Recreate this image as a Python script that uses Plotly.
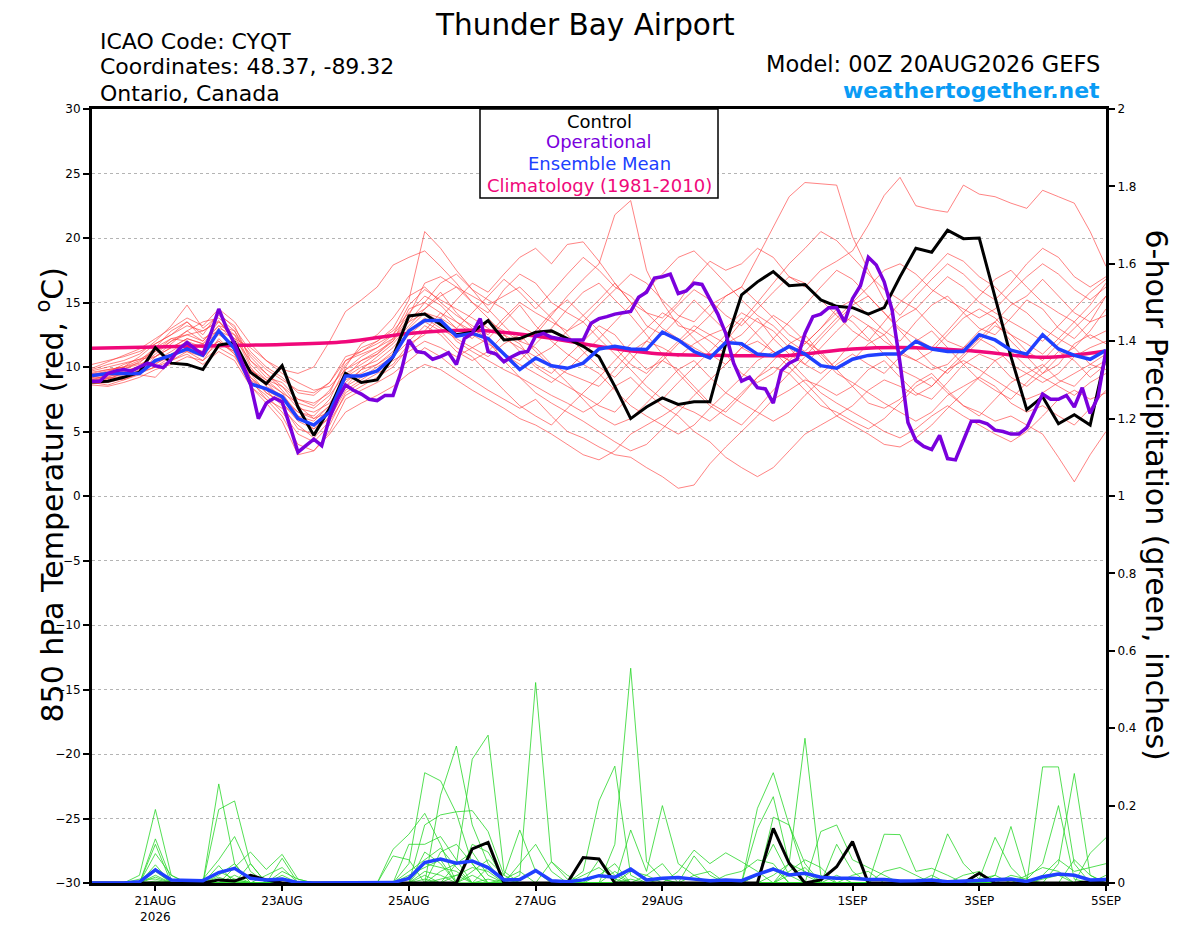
import pandas as pd
import plotly.graph_objects as go

# 6-hourly ensemble steps, 3-hourly operational, daily climatology
start = pd.Timestamp('2026-08-20 00:00')
end = pd.Timestamp('2026-09-05 00:00')
t6 = pd.date_range(start, periods=65, freq='6h')
t3 = pd.date_range(start, periods=129, freq='3h')
t24 = pd.date_range(start, periods=17, freq='D')

tick_dates = ['2026-08-21', '2026-08-23', '2026-08-25', '2026-08-27',
              '2026-08-29', '2026-09-01', '2026-09-03', '2026-09-05']
tick_labels = ['21AUG<br>2026', '23AUG', '25AUG', '27AUG', '29AUG', '1SEP', '3SEP', '5SEP']

# 850 hPa temperature (C)
control_t = [8.84, 8.9, 9.2, 9.6, 11.5, 10.3, 10.2, 9.8, 11.7, 11.9, 9.6, 8.7, 10.1, 6.9, 4.7, 6.8,
             9.5, 8.8, 9.0, 10.8, 13.96, 14.1, 13.3, 12.5, 12.7, 13.6, 12.1, 12.2, 12.7, 12.8, 12.2, 11.6,
             10.8, 8.5, 6.0, 6.9, 7.6, 7.1, 7.3, 7.3, 11.8, 15.6, 16.6, 17.4, 16.3, 16.4, 15.2, 14.7,
             14.6, 14.1, 14.6, 17.0, 19.2, 18.9, 20.6, 19.95, 20.0, 15.4, 10.8, 6.7, 7.7, 5.6, 6.3, 5.5,
             11.0]
mean_t = [9.35, 9.5, 9.5, 9.5, 10.5, 10.9, 11.4, 10.9, 12.8, 11.4, 8.7, 8.3, 7.7, 6.0, 5.5, 6.5,
          9.3, 9.3, 9.7, 10.8, 12.8, 13.6, 13.6, 12.4, 12.6, 12.2, 11.0, 9.8, 10.7, 10.1, 9.9, 10.3,
          11.4, 11.6, 11.4, 11.35, 12.7, 12.1, 11.2, 10.7, 11.9, 11.8, 11.0, 10.9, 11.6, 11.0, 10.1, 9.9,
          10.6, 10.9, 11.0, 11.0, 12.0, 11.4, 11.2, 11.2, 12.5, 12.1, 11.3, 11.0, 12.5, 11.4, 10.9, 10.6,
          11.3]
oper_t = [8.9, 8.9, 9.5, 9.7, 9.8, 9.7, 10.0, 10.3, 10.1, 9.95, 10.6, 11.4, 11.9, 11.4, 11.0, 12.6,
          14.5, 13.0, 11.8, 10.3, 8.7, 6.0, 7.2, 7.6, 7.3, 5.4, 3.4, 3.9, 4.4, 3.9, 6.1, 7.5,
          8.6, 8.2, 7.9, 7.5, 7.4, 7.8, 7.8, 9.6, 12.1, 11.2, 11.1, 10.6, 10.8, 11.1, 10.2, 12.2,
          12.6, 13.75, 11.2, 11.0, 10.4, 10.8, 11.1, 11.2, 12.4, 12.6, 12.3, 12.2, 12.1, 12.1, 12.1, 13.4,
          13.75, 13.9, 14.1, 14.2, 14.3, 15.4, 15.8, 16.9, 17.0, 17.2, 15.7, 15.9, 16.5, 16.4, 15.2, 14.1,
          12.6, 10.3, 8.9, 9.2, 8.4, 8.3, 7.2, 9.7, 10.3, 10.6, 12.6, 13.9, 14.1, 14.6, 14.6, 13.5,
          15.3, 16.3, 18.5, 17.9, 16.6, 14.4, 10.3, 5.7, 4.3, 3.85, 3.6, 4.7, 2.9, 2.8, 4.3, 5.8,
          5.8, 5.6, 5.1, 5.0, 4.8, 4.8, 5.3, 6.6, 7.9, 7.5, 7.5, 7.8, 6.9, 8.4, 6.4, 7.7,
          11.3]
clim_t = [11.45, 11.55, 11.65, 11.75, 11.95, 12.6, 12.85, 12.4, 11.6, 11.0, 10.9, 10.9, 11.4, 11.5,
          11.2, 10.75, 11.25]

temp_members = [
    [9.2, 9.0, 9.6, 10.1, 11.0, 12.0, 12.5, 12.8, 13.6, 12.0, 9.5, 8.0, 7.2, 6.0, 5.5, 6.8, 9.8, 10.5, 11.0, 12.0, 14.5, 15.0, 14.2, 13.0, 12.2, 13.5, 12.8, 12.0, 11.5, 10.2, 9.5, 9.0, 8.5, 9.8, 11.2, 12.0, 11.5, 10.8, 11.8, 12.5, 13.0, 14.2, 13.5, 12.8, 11.5, 10.2, 9.5, 10.5, 12.0, 13.2, 12.5, 11.0, 10.5, 9.8, 10.2, 11.5, 12.8, 13.5, 12.0, 10.8, 9.5, 10.2, 11.8, 12.5, 11.8],
    [9.8, 10.2, 10.5, 11.0, 12.0, 13.2, 14.8, 13.0, 14.0, 13.2, 10.5, 9.2, 8.8, 7.5, 7.0, 8.2, 10.2, 11.5, 12.0, 13.0, 15.2, 20.5, 19.2, 17.5, 16.0, 15.2, 14.5, 13.2, 12.5, 14.0, 15.5, 16.8, 18.0, 21.8, 22.9, 17.5, 15.0, 13.2, 12.8, 14.0, 15.5, 16.2, 15.0, 13.8, 12.5, 11.8, 13.0, 14.5, 15.2, 14.0, 12.8, 12.0, 13.5, 14.8, 15.5, 14.2, 13.0, 12.5, 13.8, 15.2, 14.5, 13.0, 12.2, 13.5, 14.0],
    [9.0, 9.4, 9.8, 10.4, 11.2, 12.2, 12.0, 11.5, 13.0, 12.5, 10.0, 8.5, 7.8, 6.5, 6.2, 7.5, 10.0, 11.8, 12.5, 13.8, 15.5, 16.2, 15.0, 14.0, 13.2, 12.5, 13.8, 15.0, 14.2, 13.5, 12.8, 14.0, 15.2, 16.5, 15.0, 14.2, 13.8, 15.0, 16.8, 18.2, 17.5, 18.0, 19.2, 18.5, 17.0, 16.2, 17.5, 18.2, 19.0, 21.0, 23.3, 24.7, 22.5, 22.2, 22.0, 24.1, 23.4, 23.2, 22.7, 22.3, 23.7, 23.2, 22.7, 20.5, 17.8],
    [9.5, 9.8, 10.0, 10.8, 11.8, 12.5, 13.5, 12.2, 12.8, 11.5, 9.8, 8.8, 8.0, 7.2, 6.8, 7.8, 9.5, 10.2, 11.0, 12.2, 13.8, 14.5, 15.5, 16.2, 15.0, 14.2, 16.0, 17.2, 16.5, 15.0, 14.2, 13.5, 14.8, 16.0, 17.2, 16.5, 15.2, 14.0, 13.5, 14.8, 15.5, 16.2, 18.5, 20.8, 23.2, 24.3, 24.2, 24.1, 20.1, 17.5, 15.2, 14.0, 15.5, 16.8, 18.0, 17.2, 16.0, 15.2, 16.5, 18.0, 19.2, 18.5, 17.0, 16.2, 17.0],
    [8.8, 8.6, 9.0, 9.4, 9.2, 10.5, 11.2, 10.5, 12.2, 11.0, 8.5, 7.2, 5.8, 3.2, 3.5, 5.0, 7.5, 8.2, 8.8, 9.5, 10.5, 11.5, 10.8, 9.8, 9.0, 8.2, 7.5, 6.8, 7.5, 6.2, 5.0, 4.5, 3.8, 3.2, 3.0, 2.2, 1.5, 0.6, 0.85, 2.5, 3.8, 5.0, 6.2, 7.5, 8.2, 9.0, 8.5, 7.8, 8.5, 9.8, 10.5, 9.2, 8.0, 7.5, 8.8, 10.2, 11.0, 10.5, 9.2, 8.5, 9.5, 10.8, 11.5, 10.2, 9.8],
    [9.4, 9.6, 10.2, 10.6, 10.8, 11.5, 12.2, 11.8, 13.2, 12.0, 9.2, 8.2, 7.0, 5.2, 4.8, 6.2, 8.5, 9.2, 10.0, 10.8, 12.0, 13.2, 12.5, 11.2, 10.5, 11.2, 12.5, 11.8, 10.2, 9.5, 10.8, 12.0, 13.2, 12.5, 11.0, 9.8, 10.5, 11.8, 12.8, 12.0, 11.0, 9.5, 8.8, 9.5, 10.8, 12.0, 11.2, 9.8, 8.5, 7.2, 6.8, 7.5, 8.8, 9.5, 8.2, 7.0, 6.5, 5.8, 6.2, 5.5, 4.8, 3.0, 1.1, 3.2, 5.0],
    [9.0, 8.9, 9.2, 9.8, 10.2, 11.0, 11.8, 11.5, 12.5, 11.8, 9.5, 8.8, 7.5, 6.2, 5.8, 7.0, 9.2, 10.0, 10.5, 11.5, 13.0, 14.2, 13.5, 12.0, 11.2, 10.5, 9.8, 9.2, 8.5, 7.8, 7.2, 6.5, 7.2, 8.5, 9.2, 8.0, 7.0, 6.2, 5.0, 4.2, 3.0, 2.2, 1.5, 2.2, 3.5, 4.8, 5.5, 6.2, 7.0, 8.2, 9.0, 8.5, 7.8, 8.5, 9.8, 10.5, 9.8, 9.0, 8.2, 7.5, 8.0, 8.8, 9.5, 10.2, 11.0],
    [10.2, 10.5, 10.8, 11.2, 11.8, 12.5, 13.2, 12.8, 13.5, 12.2, 11.5, 10.5, 9.8, 9.5, 10.0, 12.0, 14.3, 15.2, 16.2, 17.9, 18.5, 19.0, 17.8, 16.5, 15.0, 13.8, 12.5, 11.2, 10.0, 9.2, 8.5, 7.8, 7.0, 6.5, 7.8, 9.2, 10.5, 9.8, 8.5, 7.2, 6.5, 7.8, 9.2, 10.5, 11.8, 12.5, 11.0, 9.8, 10.5, 11.8, 12.5, 13.8, 14.5, 13.2, 12.0, 11.5, 12.2, 13.5, 14.8, 15.5, 16.8, 15.5, 14.2, 13.5, 15.5],
    [8.6, 8.5, 8.8, 9.2, 9.8, 10.2, 10.8, 10.5, 11.5, 10.8, 8.8, 7.8, 6.5, 4.8, 4.2, 5.5, 8.0, 8.8, 9.5, 10.2, 11.8, 12.5, 13.8, 15.2, 16.5, 15.8, 17.2, 18.5, 19.2, 18.0, 19.5, 19.7, 18.2, 16.5, 15.0, 13.2, 12.5, 13.8, 15.2, 14.0, 12.8, 11.5, 10.8, 12.2, 13.5, 14.8, 16.2, 17.5, 16.8, 15.5, 14.2, 13.0, 12.2, 11.5, 12.8, 14.2, 15.5, 16.8, 17.5, 16.2, 15.0, 14.2, 13.5, 14.8, 16.5],
    [9.3, 9.1, 9.5, 9.9, 10.5, 11.2, 12.0, 11.0, 12.0, 11.2, 9.0, 7.5, 6.2, 4.0, 3.5, 4.8, 6.5, 7.2, 7.8, 8.5, 9.5, 10.2, 9.8, 9.0, 8.2, 7.5, 6.8, 6.0, 5.5, 4.8, 4.0, 3.2, 2.8, 3.5, 4.8, 5.5, 6.2, 7.0, 6.5, 5.8, 6.8, 8.0, 9.2, 10.0, 9.5, 8.2, 7.0, 6.5, 5.8, 5.2, 6.0, 7.2, 8.5, 9.2, 8.0, 7.0, 6.2, 7.5, 8.8, 9.5, 10.2, 9.0, 8.5, 9.8, 10.5],
    [9.6, 9.8, 10.0, 10.3, 11.5, 12.8, 13.5, 12.5, 14.2, 13.0, 11.2, 10.0, 9.2, 8.0, 7.8, 8.8, 10.8, 11.2, 11.8, 12.5, 14.0, 16.5, 17.0, 16.2, 15.5, 14.8, 15.5, 16.2, 15.0, 13.8, 12.5, 11.2, 10.0, 9.2, 10.5, 12.0, 13.5, 14.8, 16.0, 15.2, 14.0, 13.2, 14.5, 15.8, 17.0, 16.5, 15.2, 14.0, 12.8, 12.0, 13.5, 15.0, 16.2, 17.5, 18.8, 18.2, 17.0, 16.2, 15.0, 14.2, 13.0, 12.2, 11.5, 12.8, 14.5],
    [9.1, 9.3, 9.4, 9.6, 10.0, 10.8, 11.5, 11.2, 12.8, 12.2, 10.5, 9.5, 8.2, 6.8, 6.5, 7.2, 9.0, 9.5, 10.2, 11.0, 12.5, 13.5, 12.8, 11.5, 10.8, 9.5, 8.2, 7.0, 6.2, 5.5, 6.8, 8.0, 9.2, 10.5, 11.8, 13.0, 14.2, 13.5, 12.2, 11.0, 10.2, 11.5, 12.8, 14.0, 13.2, 12.0, 10.8, 9.5, 8.8, 8.0, 7.2, 6.5, 5.8, 6.5, 7.8, 8.5, 9.2, 10.5, 11.2, 10.0, 9.2, 8.5, 7.8, 8.8, 9.5],
    [9.5, 9.2, 9.0, 9.5, 10.8, 11.8, 12.8, 13.5, 13.8, 12.8, 10.2, 9.0, 8.5, 7.0, 6.0, 6.5, 8.8, 9.8, 10.8, 11.8, 13.2, 14.5, 15.8, 14.2, 13.0, 12.2, 11.0, 10.5, 11.8, 13.0, 14.5, 15.8, 16.5, 15.2, 14.0, 12.5, 11.0, 9.5, 8.2, 7.0, 6.2, 5.5, 6.8, 8.2, 9.5, 10.8, 12.2, 13.5, 14.8, 15.5, 14.2, 12.8, 11.5, 10.2, 9.5, 10.8, 12.0, 13.2, 12.5, 11.2, 10.5, 11.8, 13.0, 14.2, 15.5],
    [8.9, 9.2, 9.7, 10.0, 10.5, 11.0, 11.2, 10.8, 11.8, 11.2, 9.2, 8.0, 7.2, 5.8, 5.2, 6.0, 8.2, 9.0, 9.8, 10.5, 11.2, 12.0, 11.5, 10.8, 11.5, 12.2, 13.5, 14.8, 13.2, 12.0, 11.0, 10.2, 9.5, 8.2, 7.0, 6.2, 5.5, 4.8, 5.5, 6.8, 8.0, 9.2, 10.5, 11.2, 10.5, 9.2, 8.0, 7.2, 6.5, 5.8, 5.0, 4.5, 5.2, 6.2, 7.0, 6.2, 5.5, 4.8, 4.2, 5.0, 6.2, 7.5, 8.2, 7.5, 8.0],
    [9.7, 10.0, 10.3, 10.6, 11.2, 12.0, 12.8, 12.0, 13.5, 12.5, 11.0, 9.8, 9.0, 8.2, 8.0, 8.8, 10.5, 11.2, 12.0, 12.8, 14.2, 15.5, 14.8, 13.5, 12.5, 11.8, 11.0, 10.2, 9.5, 8.8, 9.8, 11.0, 12.2, 13.5, 14.8, 16.0, 17.2, 18.5, 19.0, 17.8, 16.5, 15.2, 14.0, 13.2, 12.0, 11.2, 12.5, 13.8, 15.0, 16.2, 17.5, 18.0, 17.2, 16.0, 15.2, 14.5, 13.8, 14.5, 15.8, 17.0, 18.0, 17.2, 16.0, 15.2, 16.2],
    [8.7, 8.8, 9.1, 9.5, 10.0, 10.5, 11.0, 10.2, 11.2, 10.5, 8.5, 7.5, 6.8, 5.5, 4.5, 5.8, 7.8, 8.5, 9.2, 10.0, 11.5, 12.8, 14.2, 13.5, 12.8, 12.0, 10.5, 9.2, 8.0, 7.2, 6.5, 5.8, 5.0, 4.2, 3.5, 4.0, 5.2, 6.5, 7.8, 9.0, 10.2, 11.5, 12.0, 11.2, 10.0, 8.8, 7.5, 6.2, 5.5, 4.8, 4.0, 3.8, 4.5, 5.5, 6.8, 8.0, 9.2, 8.5, 7.2, 6.5, 7.0, 6.2, 5.5, 6.8, 8.2],
    [9.9, 10.4, 10.9, 11.4, 12.2, 13.0, 13.8, 13.2, 14.5, 13.5, 11.8, 10.5, 9.5, 8.8, 8.2, 8.5, 9.8, 10.8, 11.5, 12.2, 13.5, 14.2, 13.8, 13.0, 14.2, 15.5, 16.8, 15.8, 14.5, 15.8, 17.2, 18.5, 17.5, 16.2, 15.5, 14.2, 13.0, 12.2, 11.5, 10.8, 12.0, 13.5, 15.0, 16.5, 18.0, 19.2, 20.5, 19.8, 18.5, 17.2, 16.0, 15.2, 14.5, 15.8, 17.0, 16.2, 15.0, 14.2, 13.5, 12.8, 12.0, 13.2, 14.5, 15.8, 16.8],
    [9.2, 9.5, 9.9, 10.2, 10.8, 11.5, 12.2, 11.8, 12.6, 11.5, 9.8, 9.0, 8.0, 6.2, 5.2, 6.5, 8.5, 9.8, 10.2, 11.2, 12.8, 13.8, 13.0, 12.2, 11.5, 10.8, 11.8, 12.5, 11.2, 10.0, 8.8, 7.5, 6.2, 5.5, 6.0, 7.2, 8.5, 9.8, 10.5, 9.2, 8.0, 7.2, 6.5, 5.8, 6.5, 7.8, 9.0, 10.2, 11.0, 10.2, 9.5, 10.8, 12.0, 12.8, 11.5, 10.2, 9.0, 8.2, 7.5, 8.8, 10.0, 11.2, 10.5, 9.2, 10.2],
    [9.0, 9.1, 9.3, 9.7, 10.3, 10.8, 11.5, 11.2, 12.0, 11.0, 9.0, 8.2, 7.5, 6.5, 6.0, 7.0, 9.2, 10.5, 11.2, 12.0, 13.5, 15.0, 16.5, 17.2, 16.0, 14.5, 13.2, 12.0, 12.8, 14.2, 15.2, 14.0, 12.8, 11.5, 10.2, 9.5, 10.8, 12.0, 13.2, 12.5, 11.8, 12.5, 13.8, 12.2, 11.0, 10.2, 11.5, 12.8, 14.0, 13.2, 12.0, 11.2, 10.5, 11.2, 12.5, 13.8, 14.5, 13.8, 12.5, 11.8, 11.0, 12.2, 13.5, 12.2, 12.8],
    [9.4, 9.7, 10.0, 10.5, 11.5, 12.2, 12.5, 12.0, 13.2, 12.8, 10.8, 9.5, 8.5, 7.5, 7.2, 8.0, 10.5, 11.0, 11.5, 12.5, 14.8, 16.0, 15.2, 14.5, 13.8, 13.0, 12.2, 11.5, 10.8, 11.5, 12.8, 13.5, 12.2, 11.0, 9.8, 8.5, 7.5, 8.8, 10.0, 11.2, 12.5, 13.8, 12.5, 11.2, 10.5, 11.8, 13.0, 14.2, 13.5, 12.2, 11.0, 9.8, 9.2, 8.5, 9.8, 11.0, 12.2, 11.5, 10.2, 9.5, 8.8, 9.5, 10.8, 11.5, 12.0],
]

# 6-hour precipitation (inches)
control_p = [0, 0, 0, 0, 0, 0, 0, 0, .008, .005, .02, .008, 0, 0, 0, 0,
             0, 0, 0, 0, 0, 0, 0, 0, .088, .105, 0, 0, 0, 0, 0, .066,
             .062, 0, 0, 0, 0, 0, 0, 0, 0, 0, 0, .141, .051, 0, .008, .042,
             .107, 0, 0, 0, 0, 0, 0, 0, .025, 0, 0, 0, 0, 0, 0, .003, 0]
mean_p = [0, 0, 0, .003, .034, .008, .006, .006, .027, .038, .012, .008, .01, .001, 0, 0,
          0, 0, 0, .001, .012, .053, .062, .051, .057, .040, .008, .009, .032, .006, .003, .008,
          .019, .015, .036, .008, .012, .014, .01, .006, .008, .006, .022, .036, .021, .025, .015, .012,
          .012, .009, .009, .005, .006, .008, .003, .005, .006, .009, .01, .004, .016, .023, .02, .008, .009]

precip_members = [
    [0, 0, 0, .02, .19, .02, 0, 0, .256, .05, 0, 0, 0, 0, 0, 0, 0, 0, 0, 0, .05, .285, .264, .18, .05, 0, 0, .02, .518, .055, .01, 0, 0, 0, 0, 0, 0, 0, 0, 0, 0, 0, .02, .1, .02, 0, 0, 0, 0, 0, 0, 0, 0, 0, 0, 0, 0, 0, 0, 0, 0, 0, 0, 0, 0],
    [0, 0, 0, 0, .114, .01, 0, 0, .19, .212, .05, 0, 0, 0, 0, 0, 0, 0, 0, .087, .126, .18, .1, 0, 0, 0, 0, 0, 0, 0, 0, 0, 0, .1, .555, .055, .01, 0, 0, 0, 0, 0, 0, 0, 0, 0, 0, 0, 0, 0, 0, 0, 0, 0, 0, 0, 0, 0, 0, 0, .3, .3, .05, 0, 0],
    [0, 0, 0, 0, .1, 0, 0, .01, .06, .12, .03, 0, 0, 0, 0, 0, 0, 0, 0, 0, 0, 0, .227, .354, .15, .05, 0, 0, 0, 0, 0, 0, .02, .05, 0, 0, 0, 0, 0, 0, 0, 0, .193, .285, .15, .05, 0, 0, 0, 0, 0, 0, 0, 0, 0, 0, 0, 0, 0, 0, 0, 0, 0, 0, 0],
    [0, 0, 0, 0, .076, .02, 0, 0, 0, .04, .08, .035, .074, .01, 0, 0, 0, 0, 0, 0, 0, 0, 0, .05, .32, .382, .03, 0, 0, 0, 0, 0, 0, 0, 0, 0, 0, 0, 0, 0, 0, 0, 0, 0, .05, .374, .02, 0, 0, 0, 0, 0, 0, 0, 0, 0, 0, 0, 0, 0, 0, .05, .283, .02, 0],
    [0, 0, 0, 0, .047, 0, 0, 0, .045, 0, 0, 0, .064, 0, 0, 0, 0, 0, 0, 0, 0, .15, .176, .184, .187, .133, .02, .137, .03, 0, 0, 0, 0, 0, 0, 0, 0, 0, 0, 0, 0, 0, .141, .223, .05, 0, 0, 0, 0, 0, 0, 0, 0, 0, 0, 0, 0, 0, .02, .01, .05, .2, .01, 0, 0],
    [0, 0, 0, 0, .034, 0, 0, 0, 0, .02, 0, .02, .04, 0, 0, 0, 0, 0, 0, 0, .1, .1, .12, .06, 0, 0, 0, 0, 0, 0, 0, .03, .212, .302, .02, 0, .01, 0, 0, 0, 0, 0, 0, .17, .15, .02, 0, 0, 0, 0, 0, 0, 0, 0, 0, 0, 0, 0, 0, 0, 0, 0, 0, 0, 0],
    [0, 0, 0, 0, .02, 0, 0, 0, .02, .05, 0, 0, 0, 0, 0, 0, 0, 0, 0, 0, 0, .08, .05, 0, .1, .08, .01, 0, 0, 0, 0, 0, 0, 0, .137, .03, .2, .05, .02, 0, 0, 0, 0, 0, 0, 0, .133, .15, .06, .04, .02, 0, 0, 0, 0, 0, 0, 0, 0, 0, 0, 0, 0, 0, 0],
    [0, 0, 0, .01, .01, 0, 0, 0, 0, 0, .05, 0, 0, 0, 0, 0, 0, 0, 0, .07, .06, 0, .08, .1, .05, 0, 0, 0, 0, 0, 0, 0, 0, 0, 0, 0, 0, .03, .085, .05, .078, .055, .03, 0, 0, 0, 0, 0, 0, 0, .126, .125, .03, .038, .02, 0, 0, 0, 0, 0, 0, 0, 0, 0, 0],
    [0, 0, 0, 0, 0, 0, 0, 0, .015, 0, 0, 0, .02, 0, 0, 0, 0, 0, 0, 0, 0, .05, .04, .03, 0, .04, 0, .05, .1, .03, 0, 0, 0, 0, 0, .02, .05, 0, .07, .02, 0, 0, 0, 0, 0, 0, 0, 0, 0, 0, 0, 0, 0, .01, .127, .05, .01, .118, .04, 0, 0, 0, 0, 0, 0],
    [0, 0, 0, 0, .015, 0, 0, 0, 0, .01, 0, 0, 0, 0, 0, 0, 0, 0, 0, 0, 0, .03, .02, 0, .03, .06, .02, 0, 0, .055, .02, 0, 0, .03, 0, 0, 0, 0, 0, 0, .02, .03, .06, .05, 0, 0, 0, .1, .03, 0, 0, 0, 0, 0, 0, 0, 0, .02, .146, .01, 0, 0, 0, .077, .117],
    [0, 0, 0, 0, 0, 0, 0, 0, .03, .01, 0, 0, 0, 0, 0, 0, 0, 0, 0, 0, 0, 0, .03, .05, .08, .02, 0, 0, 0, 0, 0, 0, .06, .02, 0, 0, 0, 0, 0, 0, 0, 0, 0, 0, .03, .06, .04, 0, 0, 0, 0, 0, 0, 0, 0, .02, .03, 0, 0, 0, .02, .06, .03, .04, .05],
    [0, 0, 0, 0, 0, 0, 0, 0, 0, 0, 0, 0, .01, 0, 0, 0, 0, 0, 0, 0, .02, .04, .06, 0, 0, 0, .01, .03, 0, 0, 0, 0, 0, 0, .03, .02, 0, 0, 0, 0, 0, 0, .02, .04, 0, 0, 0, 0, 0, 0, .03, .04, .02, 0, 0, 0, 0, 0, 0, .02, .04, .03, 0, 0, 0],
    [0, 0, 0, 0, .005, 0, 0, 0, 0, 0, 0, 0, 0, 0, 0, 0, 0, 0, 0, 0, 0, .02, 0, .02, .04, .03, 0, 0, 0, 0, 0, .02, .04, .01, 0, 0, 0, 0, 0, 0, 0, 0, 0, .02, .05, .03, 0, 0, 0, 0, 0, 0, 0, 0, 0, 0, .01, .02, 0, 0, 0, 0, .06, .02, 0],
    [0, 0, 0, 0, 0, 0, 0, 0, 0, 0, 0, 0, 0, 0, 0, 0, 0, 0, 0, 0, 0, 0, .01, .02, 0, .01, 0, 0, 0, 0, 0, 0, 0, 0, 0, 0, 0, 0, .02, .03, 0, 0, 0, 0, 0, 0, 0, 0, .02, .03, 0, 0, 0, 0, 0, 0, 0, 0, 0, 0, 0, 0, 0, 0, .02],
    [0, 0, 0, 0, 0, 0, 0, 0, 0, .005, 0, 0, 0, 0, 0, 0, 0, 0, 0, 0, 0, .01, 0, 0, .02, 0, 0, 0, 0, 0, 0, 0, 0, 0, .01, 0, 0, 0, 0, 0, 0, 0, 0, 0, 0, 0, 0, .02, 0, 0, 0, 0, 0, .02, 0, 0, 0, 0, 0, 0, 0, 0, 0, 0, 0],
    [0, 0, 0, .005, .03, 0, 0, 0, 0, 0, 0, 0, .03, .01, 0, 0, 0, 0, 0, 0, .03, .06, .09, .04, 0, 0, 0, 0, 0, 0, 0, 0, 0, 0, 0, 0, 0, 0, 0, 0, 0, 0, 0, 0, .02, .04, 0, 0, 0, 0, 0, 0, 0, 0, 0, 0, 0, 0, 0, 0, .01, .02, 0, 0, 0],
]

FONT = 'DejaVu Sans, Liberation Sans, sans-serif'
fig = go.Figure()

for m in temp_members:
    fig.add_scatter(x=t6[:len(m)], y=m, mode='lines', line=dict(color='rgba(255,60,60,0.8)', width=0.8),
                    hoverinfo='skip')
for m in precip_members:
    fig.add_scatter(x=t6[:len(m)], y=m, mode='lines', yaxis='y2',
                    line=dict(color='rgb(40,215,40)', width=0.8), hoverinfo='skip')

fig.add_scatter(x=t24, y=clim_t, mode='lines', line=dict(color='#f0087a', width=3.5, shape='spline'))
fig.add_scatter(x=t6, y=control_p, mode='lines', yaxis='y2', line=dict(color='black', width=3))
fig.add_scatter(x=t6, y=mean_p, mode='lines', yaxis='y2', line=dict(color='#2040ff', width=3.5))
fig.add_scatter(x=t6, y=control_t, mode='lines', line=dict(color='black', width=3))
fig.add_scatter(x=t6, y=mean_t, mode='lines', line=dict(color='#2040ff', width=3.5))
fig.add_scatter(x=t3, y=oper_t, mode='lines', line=dict(color='#7a00dd', width=3.5))

# the page body adds an 8px margin, so the figure is 8px smaller each way
fig.update_layout(
    width=1192, height=919,
    margin=dict(l=84, r=94, t=101, b=44),
    paper_bgcolor='white', plot_bgcolor='white',
    showlegend=False,
    font=dict(family=FONT, color='black', size=12),
    xaxis=dict(type='date', range=[start, end], tickvals=tick_dates, ticktext=tick_labels,
               ticks='outside', ticklen=5, tickwidth=1.5, tickcolor='black',
               showline=True, linewidth=3, linecolor='black', mirror=True, automargin=False,
               showgrid=False, zeroline=False, tickfont=dict(size=12)),
    yaxis=dict(range=[-30, 30], tick0=-30, dtick=5, ticks='outside', ticklen=6, tickwidth=1.5,
               tickcolor='black', showline=True, linewidth=3, linecolor='black', automargin=False,
               showgrid=True, gridcolor='#b4b4b4', griddash='dot', gridwidth=1,
               zeroline=False, tickfont=dict(size=12)),
    yaxis2=dict(range=[0, 2], tick0=0, dtick=0.2, overlaying='y', side='right',
                ticks='outside', ticklen=6, tickwidth=1.5, tickcolor='black', automargin=False,
                showline=True, linewidth=3, linecolor='black',
                showgrid=False, zeroline=False, tickfont=dict(size=12)),
)

def px_x(px):
    return (px - 92) / 1014

def px_y(py):
    return (883 - py) / 774

notes = [
    ('Thunder Bay Airport', 585, 25, 29.5, 'center', 'black'),
    ('ICAO Code: CYQT', 98, 41, 22, 'left', 'black'),
    ('Coordinates: 48.37, -89.32', 98, 67, 22, 'left', 'black'),
    ('Ontario, Canada', 98, 94, 22, 'left', 'black'),
    ('Model: 00Z 20AUG2026 GEFS', 1102, 64, 22.5, 'right', 'black'),
    ('<b>weathertogether.net</b>', 1102, 90, 22, 'right', '#0a9cf5'),
    ('Control', 599, 121, 18, 'center', 'black'),
    ('Operational', 599, 142, 18, 'center', '#7a00dd'),
    ('Ensemble Mean', 599, 163, 18, 'center', '#2040ff'),
    ('Climatology (1981-2010)', 599, 185, 18, 'center', '#f0087a'),
]
for text, x, y, size, anchor, color in notes:
    fig.add_annotation(text=text, x=px_x(x), y=px_y(y), xref='paper', yref='paper',
                       xanchor=anchor, yanchor='middle', showarrow=False,
                       font=dict(size=size, color=color, family=FONT))

fig.add_annotation(text='850 hPa Temperature (red, <sup>o</sup>C)', x=px_x(30), y=px_y(495),
                   xref='paper', yref='paper', textangle=-90, showarrow=False,
                   font=dict(size=30, family=FONT))
fig.add_annotation(text='6-hour Precipitation (green, inches)', x=px_x(1175), y=px_y(495),
                   xref='paper', yref='paper', textangle=90, showarrow=False,
                   font=dict(size=30, family=FONT))

# legend box
fig.add_shape(type='rect', xref='paper', yref='paper', x0=px_x(480), x1=px_x(718),
              y0=px_y(198), y1=1, line=dict(color='black', width=1.5), fillcolor='white', layer='above')

fig.write_html('out.html')
